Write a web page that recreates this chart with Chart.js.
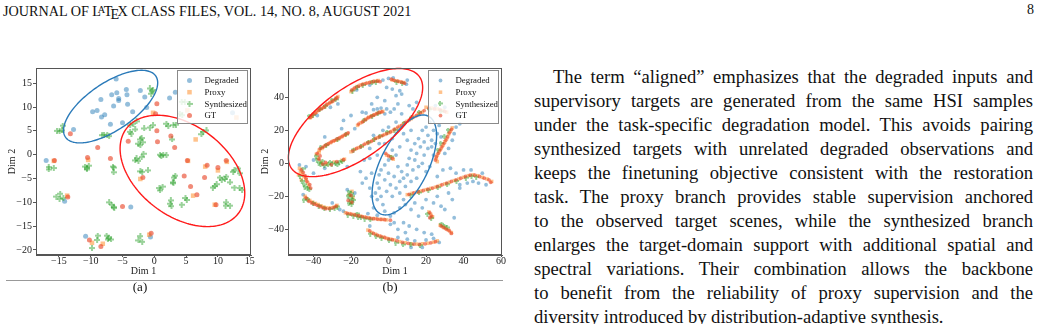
<!DOCTYPE html>
<html><head><meta charset="utf-8">
<script src="https://cdn.jsdelivr.net/npm/chart.js@4.4.1/dist/chart.umd.min.js"></script>
<style>
html,body{margin:0;padding:0;background:#fff;width:1041px;height:324px;overflow:hidden;}
body{position:relative;font-family:"Liberation Serif","Times New Roman",serif;color:#111;}
#hdr{position:absolute;left:3px;top:1px;font-size:14.2px;line-height:18px;white-space:nowrap;}
#pg{position:absolute;left:1027px;top:1px;font-size:14px;line-height:18px;}
canvas.c{position:absolute;}
#rule{position:absolute;left:6px;top:280px;width:497px;height:1px;background:#999;}
.cap{position:absolute;top:279px;font-size:13px;line-height:16px;transform:translateX(-50%);}
#txt{position:absolute;left:534px;top:65px;width:499px;font-size:18.6px;line-height:24px;}
#txt div{text-align:justify;text-align-last:justify;white-space:nowrap;}
#txt div.first{text-indent:19px;}
#txt div.last{text-align-last:left;}
</style></head>
<body>
<div id="hdr">JOURNAL OF L<span style="font-size:0.72em;vertical-align:0.28em;margin-left:-0.33em;margin-right:-0.12em">A</span>T<span style="position:relative;top:0.22em;margin-left:-0.15em;margin-right:-0.11em">E</span>X CLASS FILES, VOL. 14, NO. 8, AUGUST 2021</div>
<div id="pg">8</div>
<canvas id="ca" class="c" width="260" height="220" style="left:0px;top:60px;width:260px;height:220px"></canvas>
<canvas id="cb" class="c" width="256" height="220" style="left:256px;top:60px;width:256px;height:220px"></canvas>
<div id="rule"></div>
<div class="cap" style="left:140px">(a)</div>
<div class="cap" style="left:390px">(b)</div>
<div id="txt">
<div class="first">The term “aligned” emphasizes that the degraded inputs and</div>
<div>supervisory targets are generated from the same HSI samples</div>
<div>under the task-specific degradation model. This avoids pairing</div>
<div>synthesized targets with unrelated degraded observations and</div>
<div>keeps the finetuning objective consistent with the restoration</div>
<div>task. The proxy branch provides stable supervision anchored</div>
<div>to the observed target scenes, while the synthesized branch</div>
<div>enlarges the target-domain support with additional spatial and</div>
<div>spectral variations. Their combination allows the backbone</div>
<div>to benefit from the reliability of proxy supervision and the</div>
<div class="last">diversity introduced by distribution-adaptive synthesis.</div>
</div>
<script>
// ---------------- data ----------------
const seriesNames = ['Degraded','Proxy','Synthesized','GT'];

const aXTicks = [-15,-10,-5,0,5,10,15];
const aYTicks = [-20,-15,-10,-5,0,5,10,15];
const bXTicks = [-40,-20,0,20,40,60];
const bYTicks = [-40,-20,0,20,40];

const aDegraded = [[-6.0,15.9],[-4.4,13.7],[-5.9,13.0],[-6.7,12.6],[-8.4,11.6],[-5.6,11.8],[-5.6,11.4],[-4.3,12.6],[-2.2,13.5],[-1.5,12.1],[-4.2,10.6],[-6.4,10.2],[-9.0,9.3],[-9.7,9.0],[-7.8,8.4],[-8.3,7.9],[-3.4,9.0],[-1.2,9.9],[-6.9,6.4],[-5.0,6.7],[-12.7,5.3],[-17.0,-1.2],[-14.1,-9.8],[-3.7,-11.0],[-10.8,-17.1],[-0.6,-17.3],[2.4,11.9],[3.3,13.1],[12.3,8.8]];
const aProxy = [[-15.8,-1.3],[-10.4,-1.1],[-13.7,-8.6],[-9.8,-18.5],[-8.1,-18.7],[-0.8,-16.8],[-0.2,8.8],[5.2,9.3],[6.5,3.2],[5.3,-1.3],[11.4,-1.5],[8.0,-2.5],[10.0,-3.3],[-2.2,-5.1],[6.1,-8.6],[9.5,-10.5],[12.9,7.8]];
const aSynth = [[-0.7,13.9],[-0.4,13.3],[-0.2,13.6],[-0.5,12.8],[-3.8,6.2],[-3.3,6.5],[-2.8,7.0],[-8.2,4.1],[-7.9,4.2],[-7.4,4.1],[-7.1,3.9],[-15.3,5.0],[-14.9,4.9],[-14.5,5.1],[-14.4,6.1],[-16.6,-2.6],[-16.6,-3.1],[-15.8,-2.8],[-10.9,-2.5],[-10.6,-2.7],[-10.3,-2.3],[-10.6,-3.1],[-6.5,-2.5],[-6.4,-2.7],[-6.4,-3.7],[-15.4,-8.8],[-14.8,-8.2],[-14.9,-9.3],[-14.3,-9.1],[-7.1,-10.0],[-6.7,-10.5],[-6.4,-11.0],[-6.3,-11.2],[-9.8,-19.6],[-9.0,-17.9],[-8.9,-17.0],[-7.5,-17.0],[-7.2,-17.5],[-6.8,-17.8],[-7.3,-17.8],[-2.5,-18.0],[-1.9,-18.3],[-2.2,-17.1],[4.3,11.1],[4.8,11.1],[4.0,8.6],[4.4,8.3],[1.9,6.5],[2.2,6.0],[3.0,6.2],[3.4,6.3],[-0.2,6.2],[-0.7,5.7],[-3.0,5.3],[-3.8,4.8],[-3.6,4.4],[-1.6,5.5],[-2.2,3.2],[-2.0,3.5],[-1.8,2.6],[-2.5,2.3],[-2.2,2.0],[2.8,3.2],[7.7,4.8],[8.2,5.1],[7.4,4.3],[-1.7,0.2],[-2.0,-0.5],[-2.8,-0.8],[-3.0,-1.2],[-2.5,-1.3],[0.9,0.0],[1.1,-0.3],[1.4,0.0],[1.9,-0.1],[12.4,-3.6],[12.6,-3.3],[13.2,-2.9],[13.4,-3.9],[3.3,-4.4],[3.1,-4.8],[3.0,-6.0],[-2.2,-3.5],[-1.9,-3.6],[-1.0,-3.3],[11.3,-4.6],[11.1,-5.1],[10.6,-5.3],[11.9,-5.8],[10.3,-4.8],[2.9,-5.8],[0.8,-7.0],[1.3,-6.7],[0.9,-7.5],[9.5,-6.6],[9.2,-6.9],[9.8,-6.2],[4.9,-9.1],[5.1,-9.5],[13.4,-7.0],[13.8,-7.4],[12.6,-6.9],[2.6,-9.6],[2.5,-10.3],[2.7,-10.8],[4.3,-10.5],[11.3,-10.0],[11.2,-10.7],[11.9,-10.7]];
const aGT = [[-13.2,4.4],[-8.9,1.5],[-15.7,-1.2],[-10.5,-0.6],[-6.9,-0.8],[-13.6,-8.9],[-5.0,-10.9],[-10.2,-17.9],[-8.4,-19.3],[-0.5,-16.5],[0.4,10.7],[0.2,8.6],[2.6,3.9],[0.4,5.0],[-4.1,2.8],[0.5,2.7],[3.2,1.5],[5.2,-1.2],[11.3,-1.2],[8.3,-2.2],[10.0,-2.7],[4.7,-4.5],[-1.8,-4.8],[7.9,-4.8],[5.7,-6.7],[6.7,-8.4],[9.7,-10.5]];

const bDegraded = [[-17,44.5],[-10,47.5],[-3,50.5],[0,51.5],[2.5,51.8],[9.5,48],[10,50.5],[-1,46],[6,44],[4,41],[-38,29],[-31,34],[-27,36],[-12,30.5],[-8,32.5],[-6,33],[-4,33.5],[-1,33],[-2,30],[1,31],[-18,21],[-24,26],[-20,29],[-14,31],[-8,17],[-3,20],[0,22],[4,25],[-10,9],[-5,12],[2,15],[-34,16],[-25,21],[-40,2],[-34,-3],[-22,-2],[-47.5,-1],[-44,-2],[-40,-6],[-45.5,-19],[-30,-24],[-26,-28],[-22,-16],[-18,-18],[-24,-29],[-11,-30.5],[-6,-31.5],[1,-32],[3,-36],[-2,-29],[-10,-38],[5,-45],[10,-46],[14,-47],[20,-46.5],[24,-45.5],[27,-48],[18,-51],[12,-51],[25,35],[30,34],[35,18],[34,14],[28,16],[23,10],[24,5],[30,6],[32,9],[36,22],[38,24],[37,30],[38,-13],[42,-12],[45,-11],[48,-12],[44,-4],[50,-6],[40,-4],[52,-13],[-6,-12],[-5,-15],[-7,-18],[-4,-20],[-6,-22],[-3,-25],[-1,-17],[-2,-10],[0,-6],[-4,-4],[-2,-1],[1,-13],[2,-20],[3,-8],[4,-15],[5,-2],[6,-11],[6,-18],[7,-5],[8,-9],[8,-22],[9,-14],[10,-1],[10,-7],[11,3],[12,-11],[12,8],[13,-4],[14,2],[14,12],[15,-9],[15,6],[16,15],[16,-2],[17,10],[18,0],[18,20],[19,5],[19,13],[20,-5],[20,22],[21,9],[21,17],[22,-2],[22,25],[23,14],[24,20],[25,12],[26,18],[27,23],[10,14],[8,18],[12,20],[6,10],[4,5],[2,8],[0,2],[-2,12],[-6,5],[-5,-7],[3,-30],[6,-27],[9,-25],[12,-28],[14,-24],[16,-32],[18,-27],[20,-22],[24,-24],[26,-20],[28,-26],[1,-37],[5,-40],[8,-36],[11,-38],[15,-40],[19,-42],[23,-43],[9,-42],[-8,-27],[-9,-20],[-10,-15],[-9,-6],[-12,-9],[-14,-12],[-15,-5],[-10,3],[-13,2],[26,-8],[29,-4],[33,-3],[36,-6],[32,-18],[34,-22],[30,-28],[35,-33],[38,-15],[7,30],[11,35],[13,33],[5,36],[3,33],[-2,38],[-6,40],[-9,36],[2,45],[7,42],[15,37]];
const bProxy = [[-20,43.5],[-18.5,45],[-17,46.5],[-15,47.5],[-13,48.2],[-11,48.8],[-9,49.3],[-7,49.8],[-5.5,50.2],[2,50.5],[4,50],[6,49.5],[8,49],[-42,27.5],[-41,28.5],[-40,30],[-38.5,31],[-37,32.5],[-35.5,33.5],[-34,34.5],[-32.5,36],[-31,37],[-29.5,38],[-28,39.5],[-27,40.5],[-16.5,23],[-15,24.5],[-13.5,25.5],[-12,26.8],[-10.5,28],[-9,28.8],[-7.5,29.5],[-6,30.3],[-4.5,31],[-3,31.5],[-20,7],[-18,8.5],[-16,9.5],[-14,10.5],[-12,12],[-10,13],[-8,14],[-6,15.5],[-4,16.5],[-2,17.5],[0,18.5],[2,19.5],[4,21],[6,22.5],[8,24],[10,25.5],[12,27],[14,28.5],[16,30],[18,31],[-1,5],[1,4],[2.5,2.5],[-37,8],[-35.5,9],[-34,10.5],[-32.5,11.5],[-31,12.5],[-29.5,13.5],[-28,14],[-26.5,15],[-25,16],[-23.5,17],[-22,18],[-38.5,5.5],[-37.5,3],[-36,0.5],[-33,-0.5],[-29,0.8],[-25,1.8],[-23.5,2.5],[-37,6.5],[-47.5,-3],[-47,-5],[-46,-6.5],[-45,-8],[-44,-10],[-43,-12],[-42.5,-14],[-48,-7],[-46.5,-10],[-44.5,-20],[-43.5,-21.5],[-42,-22.5],[-40.5,-23.5],[-39,-24.3],[-37.5,-25],[-36,-25.8],[-34.5,-26.5],[-33,-27],[-31,-27],[-29,-26.5],[-27.5,-25.5],[-19.5,-17],[-21,-19],[-19,-21],[-20,-24],[-23,-30],[-21,-30.5],[-19,-31],[-17,-31.5],[-15,-32],[-13,-32.5],[-11,-33],[-9,-33.5],[-7,-33.5],[-5,-34],[-3,-34],[-1,-34.3],[-11,-40.5],[-9,-42],[-7,-43],[-5,-44],[-3,-44.8],[-1,-45.5],[1,-46],[3,-46.5],[6,-47.5],[9,-48.2],[12,-48.8],[15,-49],[18,-48.8],[21,-48.5],[24,-47.8],[26,-47],[20,34],[23,33.5],[26,33],[29,32],[31,31],[34,21.5],[33,19.5],[32,17.5],[31,15],[30,13],[29,11],[28,9],[27,7],[26,5],[25.5,3],[26,1],[10,-19],[12.5,-18.2],[15,-17.5],[17.5,-16.8],[20,-16],[22.5,-15.2],[25,-14.5],[27.5,-13.5],[30,-12.5],[32.5,-11.5],[35,-10.5],[37.5,-9.5],[40,-8.5],[42.5,-7.5],[45,-7],[47.5,-7.5],[50,-8.5],[52.5,-9.5],[55,-11],[21.5,-29.5],[22.5,-31],[23.5,-32.5],[27.5,-37.5],[29,-38.5],[30.5,-39.5],[32,-40.5],[33.5,-42]];
const bSynth = [[-19,43.8],[-16.5,46],[-13.5,47.2],[-8.5,48.8],[-6.5,49.2],[4.5,49.2],[7.5,48.5],[-42,28.5],[-40,29],[-36.5,32.5],[-33.5,34.5],[-30,38.3],[-28,38.5],[-13,25.8],[-8.5,28.5],[-5.5,30],[-18.5,8],[-14.5,10],[-10.5,12.5],[-7.5,14.5],[-4.5,16.3],[-0.5,18.8],[3.5,20],[8.5,24.3],[12.5,27.5],[16.5,30.8],[1.5,3.8],[-36,9.5],[-33,10.8],[-27,14.2],[-22.5,17.2],[-38,2],[-37,0],[-36,-1],[-34,-1.5],[-32,-1],[-30,-0.5],[-28,0],[-26,0.5],[-24.5,1],[-35,1],[-31,0.5],[-27,-1],[-38.5,4],[-47,-8],[-46,-11],[-45,-13],[-44.5,-14.5],[-43,-15.5],[-42,-16],[-45.5,-3.5],[-43,-22],[-40,-24.5],[-37,-26],[-34,-27.5],[-31,-28],[-28.5,-27.2],[-27,-26.5],[-45,-22.5],[-21,-17.5],[-20,-18.5],[-21.5,-20],[-20.5,-21.5],[-19,-20],[-20,-23],[-21,-24.5],[-19.5,-25],[-18.5,-22.5],[-21.5,-31.5],[-18.5,-32],[-16.5,-30.8],[-14.5,-33],[-12.5,-33.8],[-9.5,-34.3],[-16,-33],[-9.5,-43],[-6.5,-44.5],[-3.5,-45.5],[0.5,-47],[4,-48.5],[8,-49.5],[12,-49.5],[17,-50],[22,32.5],[28,31.2],[32,20],[30,16],[28,12],[26.5,8],[12,-19.5],[16.5,-18],[21.5,-16.5],[26.5,-14.8],[31.5,-13],[36.5,-11],[41.5,-9],[44.5,-8],[47,-8.5],[21,-31],[23,-33.5],[28.5,-37],[30,-38.3],[31.5,-39.2]];
const bGT = [[-19.5,44.5],[-18,45.8],[-16,46.8],[-14,47.8],[-12,48.5],[-10,49],[-8,49.6],[-6,49.8],[-4.5,49.5],[1.5,51],[3,50.3],[5,49.8],[7,49.2],[8.5,48.6],[-41.5,28],[-40.5,29.5],[-39,30.5],[-37.5,32],[-36,33],[-34.5,34],[-33,35.5],[-31.5,36.5],[-30,37.5],[-28.5,38.8],[-27.5,39.8],[-16,23.8],[-14,25],[-12.5,26.3],[-11,27.5],[-9.5,28.3],[-8,29.2],[-6.5,30],[-5,30.8],[-3.5,31.2],[-19,7.5],[-17,9],[-15,10],[-13,11.5],[-11,12.5],[-9,13.5],[-7,15],[-5,16],[-3,17],[-1,18],[1,19],[3,20.5],[5,22],[7,23],[9,24.8],[11,26.2],[13,27.8],[15,29],[17,30.5],[19,32],[0,4.5],[2,3],[-1.5,6],[-36.5,8.8],[-35,9.8],[-33.5,11],[-32,12],[-30.5,13],[-29,13.8],[-27.5,14.8],[-26,15.5],[-24.5,16.5],[-23,17.5],[-21.5,18.5],[-38,6],[-37,2.5],[-35,-0.5],[-33.5,0.5],[-30.5,-0.8],[-27.5,1],[-24,2.2],[-36.5,4.5],[-46.5,-4],[-45.5,-5.5],[-44.5,-7.5],[-44,-9],[-43.5,-11],[-42,-13],[-41.5,-15],[-44,-21],[-42.5,-23],[-41,-24],[-39.5,-24.8],[-38,-25.5],[-36.5,-26.3],[-35,-27],[-33.5,-27.5],[-31.5,-27.5],[-29.5,-27],[-28,-26],[-20,-19.5],[-21.5,-22.5],[-19.5,-23.5],[-22,-30.3],[-20,-30.8],[-18,-31.3],[-16,-31.8],[-14,-32.3],[-12,-32.8],[-10,-33.2],[-8,-33.6],[-6,-33.8],[-4,-34],[-2,-34.2],[1,-34.5],[-10,-41],[-8,-42.5],[-6,-43.5],[-4,-44.3],[-2,-45],[0,-45.8],[2,-46.3],[4.5,-47],[7.5,-48],[10.5,-48.5],[13.5,-49],[16.5,-49.2],[19.5,-48.8],[22.5,-48.2],[25,-47.5],[21.5,33.5],[24.5,33],[27.5,32.5],[30,31.5],[33.5,20.5],[32.5,18.5],[31.5,16],[30.5,14],[29.5,12],[28.5,10],[27.5,8],[26.5,6],[25.5,4],[25,2],[11,-18.8],[13.5,-18],[16,-17.2],[18.5,-16.5],[21,-15.7],[23.5,-15],[26,-14],[28.5,-13],[31,-12],[33.5,-11],[36,-10],[38.5,-9],[41,-8],[43.5,-7.2],[46,-7.2],[48.5,-8],[51,-9],[53.5,-10],[54.5,-11.5],[22,-30],[23,-32],[22,-33],[28,-38],[29.5,-39],[31,-40],[32.5,-41],[33.5,-42.5]];

// ellipses in data units: [centerX, centerY, halfWidthX, yOffsetAtRightmost, minorY]
// (a): blue ellipse first, red second; (b): blue first, red second
const aEllipses = [[-6.87,10.1,7.40,4.99,5.76],[4.42,-3.41,9.80,-4.67,10.71]];
const bEllipses = [[8.43,-1.0,17.2,17.7,24.6],[-17.6,24.7,35.8,21.2,25.0]];

// ---------------- rendering ----------------
const FF = "'Liberation Serif','Times New Roman',serif";
const COLORS = ['rgba(31,119,180,0.48)','rgba(255,127,14,0.48)','rgba(44,160,44,0.48)','rgba(232,68,38,0.62)'];
const ELL_COLORS = ['#2a7ab9','#ff1a1a'];

function plusMarker(size, color){
  const c = document.createElement('canvas');
  c.width = size; c.height = size;
  const g = c.getContext('2d');
  g.fillStyle = color;
  const t = Math.max(2, Math.round(size/3));
  const o = Math.floor((size - t)/2);
  g.beginPath();
  g.moveTo(o,0); g.lineTo(o+t,0); g.lineTo(o+t,o); g.lineTo(size,o); g.lineTo(size,o+t);
  g.lineTo(o+t,o+t); g.lineTo(o+t,size); g.lineTo(o,size); g.lineTo(o,o+t); g.lineTo(0,o+t);
  g.lineTo(0,o); g.lineTo(o,o); g.closePath(); g.fill();
  return c;
}
function fmt(v){ return v < 0 ? '\u2212' + Math.abs(v) : String(v); }
function toXY(arr){ return arr.map(p => ({x:p[0], y:p[1]})); }

const overlay = {
  id:'overlay',
  afterDatasetsDraw(chart, args, opts){
    const ctx = chart.ctx, a = chart.chartArea, xs = chart.scales.x, ys = chart.scales.y;
    ctx.save();
    opts.ellipses.forEach((e, i) => {
      ctx.beginPath();
      for (let k = 0; k <= 180; k++){
        const t = k / 180 * Math.PI * 2;
        const dx = e[0] + e[2] * Math.cos(t);
        const dy = e[1] + e[3] * Math.cos(t) + e[4] * Math.sin(t);
        const px = xs.getPixelForValue(dx), py = ys.getPixelForValue(dy);
        if (k === 0) ctx.moveTo(px, py); else ctx.lineTo(px, py);
      }
      ctx.closePath();
      ctx.strokeStyle = ELL_COLORS[i];
      ctx.lineWidth = 1.4;
      ctx.stroke();
    });
    ctx.strokeStyle = '#555';
    ctx.lineWidth = 1;
    ctx.strokeRect(Math.round(a.left)+0.5, Math.round(a.top)+0.5, Math.round(a.right-a.left)-1, Math.round(a.bottom-a.top)-1);
    ctx.restore();
  },
  afterDraw(chart, args, opts){
    const ctx = chart.ctx, a = chart.chartArea;
    const W = 70, H = 53;
    const L = a.right - 4 - W, T = a.top + 2;
    ctx.save();
    ctx.fillStyle = 'rgba(255,255,255,0.82)';
    ctx.fillRect(L, T, W, H);
    ctx.strokeStyle = '#8a8a8a'; ctx.lineWidth = 1;
    ctx.strokeRect(L+0.5, T+0.5, W, H);
    chart.data.datasets.forEach((ds, i) => {
      const y = T + 10.5 + i * 11.7;
      ctx.fillStyle = ds.backgroundColor;
      Chart.helpers.drawPoint(ctx, {pointStyle: ds.pointStyle, radius: ds.pointRadius, rotation: 0, borderWidth: 0}, L + 12.5, y);
      ctx.fillStyle = '#111';
      ctx.font = '8.8px ' + FF;
      ctx.textBaseline = 'middle';
      ctx.textAlign = 'left';
      ctx.fillText(ds.label, L + 27.5, y + 0.5);
    });
    ctx.restore();
  }
};

function axis(isX, min, max, ticks, title, size, titlePad){
  return {
    type:'linear', position: isX ? 'bottom' : 'left', min:min, max:max,
    afterBuildTicks: s => { s.ticks = ticks.map(v => ({value:v})); },
    afterFit: s => { if (isX) s.height = size; else s.width = size; },
    ticks:{ font:{family:FF, size:10}, color:'#222', padding: isX ? -2 : 1, autoSkip:false, maxRotation:0, callback: v => fmt(v) },
    grid:{ drawOnChartArea:false, drawTicks:true, tickLength: isX ? 2 : 3, color:'#555', tickColor:'#555' },
    border:{ display:true, color:'#555', width:1 },
    title:{ display:true, text:title, font:{family:FF, size:10}, color:'#222', padding: titlePad }
  };
}

function build(id, sets, ranges, ticks, ellipses, yW, pad, mk, yTitlePad){
  const plus = plusMarker(mk.plus, COLORS[2]);
  const styles = ['circle','rect',plus,'circle'];
  const radii = [mk.circle, mk.rect, mk.circle, mk.circle];
  const order = [4,3,2,1];
  const datasets = sets.map((s, i) => ({
    label: seriesNames[i], data: toXY(s), pointStyle: styles[i], pointRadius: radii[i],
    backgroundColor: COLORS[i], borderWidth: 0, pointBorderWidth: 0, order: order[i]
  }));
  return new Chart(document.getElementById(id), {
    type:'scatter',
    data:{ datasets: datasets },
    options:{
      responsive:false, animation:false, devicePixelRatio:1,
      layout:{ padding: pad },
      plugins:{ legend:{display:false}, tooltip:{enabled:false}, overlay:{ ellipses: ellipses } },
      scales:{
        x: axis(true, ranges[0], ranges[1], ticks[0], 'Dim 1', 25, {top:0, bottom:3}),
        y: axis(false, ranges[2], ranges[3], ticks[1], 'Dim 2', yW, yTitlePad)
      }
    },
    plugins:[overlay]
  });
}

build('ca', [aDegraded, aProxy, aSynth, aGT], [-18.6, 15.2, -21.06, 18.2], [aXTicks, aYTicks], aEllipses,
      36, {left:0, top:8, right:9, bottom:0}, {circle:2.5, rect:3.2, plus:6}, {top:6, bottom:0});
build('cb', [bDegraded, bProxy, bSynth, bGT], [-53.6, 60.5, -55.6, 57.8], [bXTicks, bYTicks], bEllipses,
      32, {left:0, top:8, right:10, bottom:0}, {circle:1.9, rect:2.5, plus:5}, {top:3, bottom:0});
</script>
</body></html>
